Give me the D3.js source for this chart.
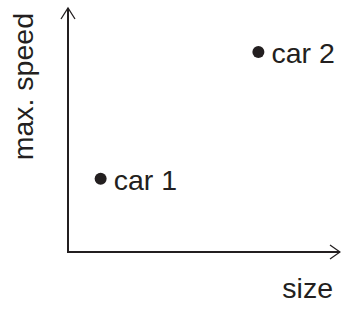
<!DOCTYPE html>
<html>
<head>
<meta charset="utf-8">
<script src="https://cdn.jsdelivr.net/npm/d3@7.9.0/dist/d3.min.js"></script>
<style>
  body { margin: 0; background: #fff; }
  text { font-family: "Liberation Sans", Arial, sans-serif; fill: #231f20; }
</style>
</head>
<body>
<svg id="chart"></svg>
<script>
// data
const cars = ['car 1', 'car 2'];
const sizes = [1.2, 7.0];
const speeds = [3.0, 8.2];
const xLabel = 'size';
const yLabel = 'max. speed';

const width = 341;
const height = 309;
const ink = '#231f20';

const x = d3.scaleLinear().domain([0, 10]).range([68, 340]);
const y = d3.scaleLinear().domain([0, 10]).range([252, 8]);

const svg = d3.select('#chart')
  .attr('width', width)
  .attr('height', height)
  .attr('viewBox', [0, 0, width, height]);

// axes as plain lines with open arrow heads
const [x0, x1] = x.range();
const [yBottom, yTop] = y.range();

svg.append('path')
  .attr('d', `M${x0},${yTop}V${yBottom}H${x1}`)
  .attr('fill', 'none')
  .attr('stroke', ink)
  .attr('stroke-width', 2);

svg.append('path')
  .attr('d', `M${x0 - 7},${yTop + 11}L${x0},${yTop}L${x0 + 7},${yTop + 11}`)
  .attr('fill', 'none')
  .attr('stroke', ink)
  .attr('stroke-width', 1.3);

svg.append('path')
  .attr('d', `M${x1 - 10},${yBottom - 7}L${x1},${yBottom}L${x1 - 10},${yBottom + 7}`)
  .attr('fill', 'none')
  .attr('stroke', ink)
  .attr('stroke-width', 1.3);

// axis labels
svg.append('text')
  .attr('x', 333)
  .attr('y', 298)
  .attr('text-anchor', 'end')
  .attr('font-size', 28.5)
  .text(xLabel);

svg.append('text')
  .attr('transform', 'translate(33,13) rotate(-90)')
  .attr('text-anchor', 'end')
  .attr('font-size', 28.5)
  .text(yLabel);

// points
const g = svg.append('g')
  .selectAll('g')
  .data(cars)
  .join('g')
  .attr('transform', (d, i) => `translate(${x(sizes[i])},${y(speeds[i])})`);

g.append('circle')
  .attr('r', 6)
  .attr('fill', ink);

g.append('text')
  .attr('x', 13)
  .attr('y', 11)
  .attr('font-size', 28.5)
  .text(d => d);
</script>
</body>
</html>
